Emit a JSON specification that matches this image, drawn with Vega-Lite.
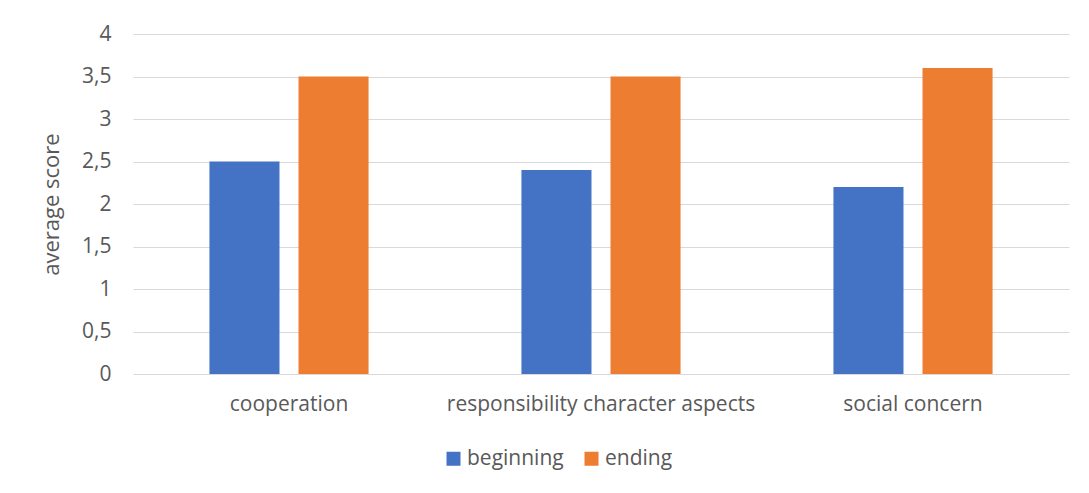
{
  "$schema": "https://vega.github.io/schema/vega-lite/v6.json",
  "autosize": {"type": "none"},
  "width": 936,
  "height": 340,
  "padding": {"left": 133, "top": 34, "right": 20, "bottom": 119},
  "background": "white",
  "config": {
    "font": "Open Sans",
    "view": {"stroke": null},
    "axis": {"labelColor": "#595959", "titleColor": "#595959", "labelFont": "Open Sans", "titleFont": "Open Sans", "labelLimit": 0}
  },
  "data": {
    "values": [
      {"aspect": "cooperation", "phase": "beginning", "score": 2.5},
      {"aspect": "cooperation", "phase": "ending", "score": 3.5},
      {"aspect": "responsibility character aspects", "phase": "beginning", "score": 2.4},
      {"aspect": "responsibility character aspects", "phase": "ending", "score": 3.5},
      {"aspect": "social concern", "phase": "beginning", "score": 2.2},
      {"aspect": "social concern", "phase": "ending", "score": 3.6}
    ]
  },
  "mark": {"type": "bar"},
  "encoding": {
    "x": {
      "field": "aspect", "type": "nominal", "sort": null,
      "scale": {"paddingInner": 0.49, "paddingOuter": 0.245},
      "axis": {"title": null, "labelAngle": 0, "labelFontSize": 21, "labelPadding": 19, "ticks": false, "domainColor": "#d9d9d9", "domainWidth": 1}
    },
    "xOffset": {"field": "phase", "type": "nominal", "scale": {"paddingInner": 0.2135, "paddingOuter": 0}},
    "y": {
      "field": "score", "type": "quantitative",
      "scale": {"domain": [0, 4]},
      "axis": {"title": "average score", "titleFontSize": 22, "titleFontWeight": "normal", "labelFontSize": 21, "labelPadding": 22, "ticks": false, "domain": false, "gridColor": "#d9d9d9", "values": [0, 0.5, 1, 1.5, 2, 2.5, 3, 3.5, 4], "format": ",.1~f", "labelExpr": "replace(datum.label, '.', ',')", "titleX": -70, "titleY": 170}
    },
    "color": {
      "field": "phase", "type": "nominal",
      "scale": {"domain": ["beginning", "ending"], "range": ["#4472C4", "#ED7D31"]},
      "legend": {"title": null, "orient": "none", "direction": "horizontal", "legendX": 310, "legendY": 414, "symbolType": "square", "symbolSize": 196, "symbolStrokeWidth": 0, "labelFontSize": 21, "labelColor": "#595959", "labelFont": "Open Sans", "columnPadding": 17, "labelOffset": 3}
    }
  }
}
